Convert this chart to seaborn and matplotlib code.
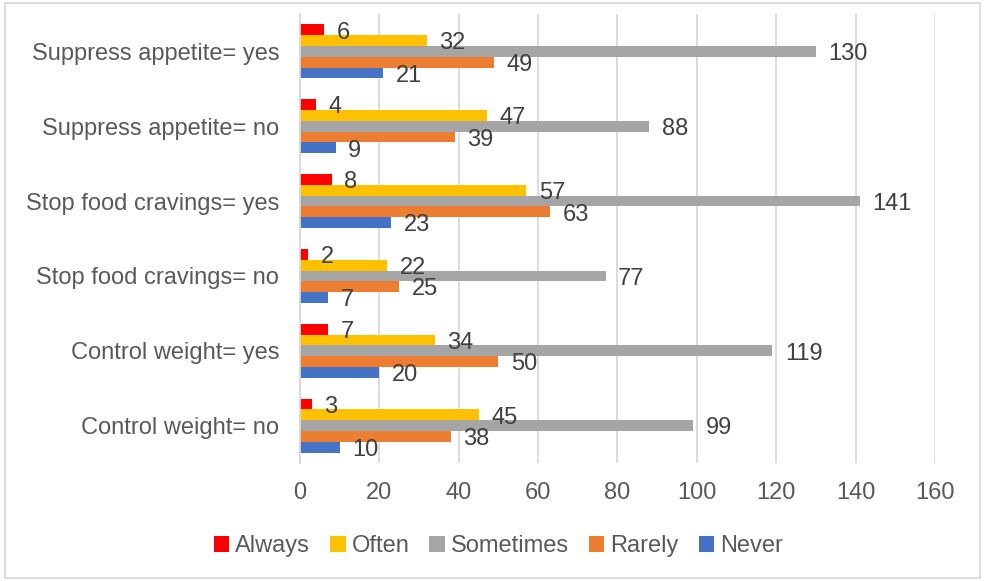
import matplotlib
matplotlib.use("Agg")
import matplotlib.pyplot as plt
import seaborn as sns
import pandas as pd
from matplotlib.patches import Rectangle, Patch

categories = ["Suppress appetite= yes", "Suppress appetite= no",
              "Stop food cravings= yes", "Stop food cravings= no",
              "Control weight= yes", "Control weight= no"]
series = ["Always", "Often", "Sometimes", "Rarely", "Never"]
always = [6, 4, 8, 2, 7, 3]
often = [32, 47, 57, 22, 34, 45]
sometimes = [130, 88, 141, 77, 119, 99]
rarely = [49, 39, 63, 25, 50, 38]
never = [21, 9, 23, 7, 20, 10]
colors = ["#FF0000", "#FFC000", "#A5A5A5", "#ED7D31", "#4472C4"]
xticks = [0, 20, 40, 60, 80, 100, 120, 140, 160]

vals = {"Always": always, "Often": often, "Sometimes": sometimes,
        "Rarely": rarely, "Never": never}
rows = []
for s in series:
    for c, v in zip(categories, vals[s]):
        rows.append({"category": c, "series": s, "value": v})
df = pd.DataFrame(rows)

sns.set_theme(style="white")
plt.rcParams["font.family"] = ["Liberation Sans", "DejaVu Sans"]

fig = plt.figure(figsize=(9.85, 5.81), dpi=100)
ax = fig.add_axes([0.3046, 0.2031, 0.6446, 0.7728])

sns.barplot(data=df, y="category", x="value", hue="series", order=categories,
            hue_order=series, palette=colors, orient="h", width=0.72,
            saturation=1, ax=ax, legend=False, errorbar=None,
            linewidth=0)

txt = "#404040"
for cont in ax.containers:
    labels = ax.bar_label(cont, padding=9, fontsize=17, color=txt)
    for t in labels:
        x0, y0 = t.xyann
        t.xyann = (x0, y0 - 2)

ax.set_xlim(0, 160)
ax.set_xticks(xticks)
ax.set_xlabel("")
ax.set_ylabel("")
ax.tick_params(axis="x", labelsize=17, labelcolor="#595959", length=0, pad=14)
ax.tick_params(axis="y", labelsize=17, labelcolor="#595959", length=0, pad=15)
ax.grid(axis="x", color="#D9D9D9", linewidth=1.3)
ax.set_axisbelow(True)
for side in ["top", "right", "bottom"]:
    ax.spines[side].set_visible(False)
ax.spines["left"].set_color("#D9D9D9")
ax.spines["left"].set_linewidth(1.3)

handles = [Patch(facecolor=c, edgecolor="none", label=s) for s, c in zip(series, colors)]
fig.legend(handles=handles, loc="center", bbox_to_anchor=(0.506, 0.06), ncol=5,
           frameon=False, fontsize=17, handlelength=0.65, handleheight=0.65,
           handletextpad=0.25, columnspacing=0.85, labelcolor="#595959")

fig.patches.append(Rectangle((0.005, 0.006), 0.99, 0.988, transform=fig.transFigure,
                             fill=False, edgecolor="#D9D9D9", linewidth=1.3))

fig.savefig("out.png", dpi=100)
